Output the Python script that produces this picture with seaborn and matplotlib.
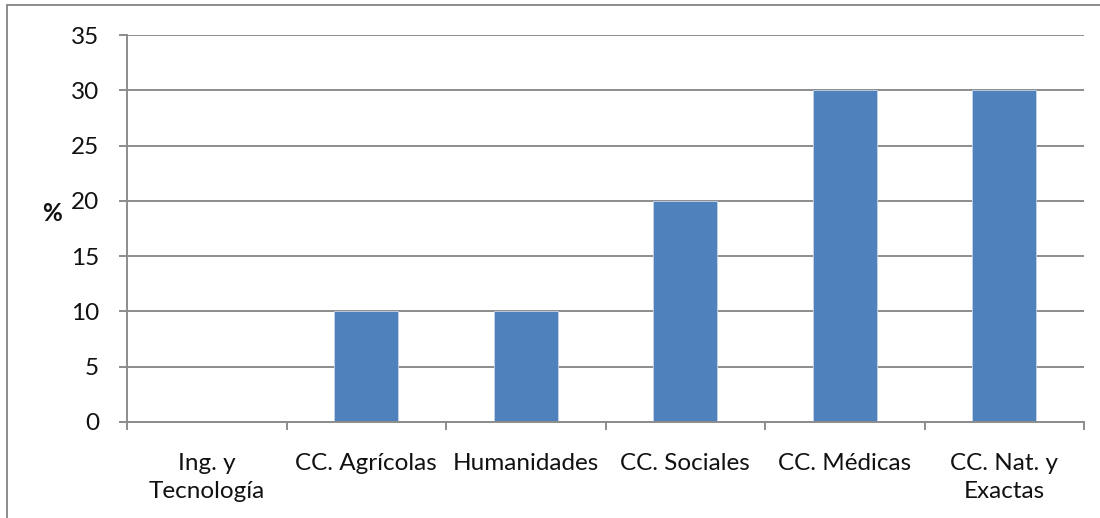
import matplotlib
matplotlib.use("Agg")
import matplotlib.pyplot as plt
import seaborn as sns
import pandas as pd
from matplotlib.lines import Line2D

categories = ["Ing. y\nTecnología", "CC. Agrícolas", "Humanidades", "CC. Sociales", "CC. Médicas", "CC. Nat. y\nExactas"]
values = [0, 10, 10, 20, 30, 30]
yticks = [0, 5, 10, 15, 20, 25, 30, 35]

sns.set_theme(style="white")
plt.rcParams['font.family'] = ['Lato', 'DejaVu Sans']

df = pd.DataFrame({"cat": categories, "val": values})

fig = plt.figure(figsize=(11, 5.18), dpi=100)
ax = fig.add_axes([127/1100, 1-422/518, (1084-127)/1100, (422-35)/518])

sns.barplot(data=df, x="cat", y="val", ax=ax, color="#4F81BD", width=0.4,
            edgecolor="#c5d4ea", linewidth=0.6, saturation=1)

grid_c = "#8c8c8c"
fs = 17.5
ax.set_xlim(-0.5, 5.5)
ax.set_ylim(0, 35)
ax.set_yticks(yticks)
ax.set_yticklabels([str(t) for t in yticks], fontsize=fs, color="#111111")
ax.yaxis.grid(True, color=grid_c, linewidth=1.4)
ax.set_axisbelow(True)
ax.tick_params(axis='y', which='major', length=6, width=1.4, color=grid_c, left=True, pad=14)

ax.set_xticks(range(len(categories)))
ax.set_xticklabels(categories, fontsize=fs, color="#111111", linespacing=1.45)
ax.tick_params(axis='x', which='major', length=0, pad=22)
ax.set_xticks([i - 0.5 for i in range(len(categories) + 1)], minor=True)
ax.tick_params(axis='x', which='minor', length=6, width=1.4, color=grid_c, bottom=True, direction='out')

for s in ["top", "right"]:
    ax.spines[s].set_visible(False)
for s in ["left", "bottom"]:
    ax.spines[s].set_color(grid_c)
    ax.spines[s].set_linewidth(1.4)

ax.set_xlabel("")
ax.set_ylabel("%", fontsize=fs, fontweight="bold", rotation=0, va="center", ha="center", color="#111111")
ax.yaxis.set_label_coords(-0.078, 0.54)

# outer chart border
fig.add_artist(Line2D([7/1100, 7/1100], [0, 1-5/518], transform=fig.transFigure, color=grid_c, linewidth=1.4))
fig.add_artist(Line2D([7/1100, 1], [1-5/518, 1-5/518], transform=fig.transFigure, color=grid_c, linewidth=1.4))

fig.savefig("out.png", dpi=100)
